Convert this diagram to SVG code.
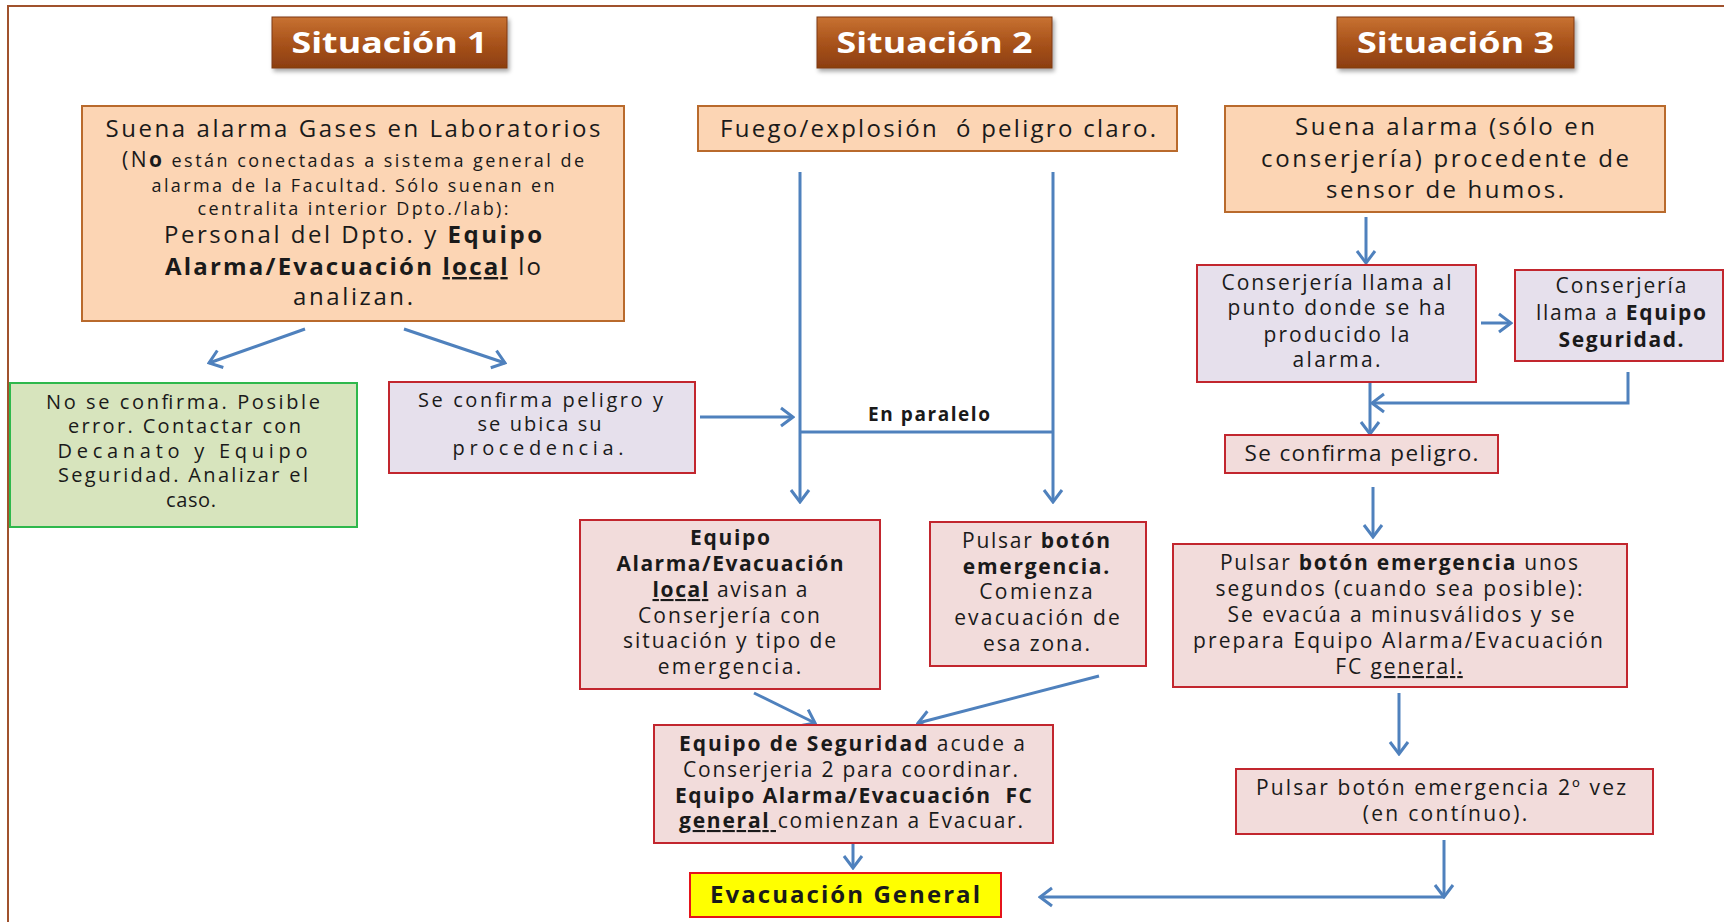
<svg xmlns="http://www.w3.org/2000/svg" width="1724" height="922" viewBox="0 0 1724 922">
<defs>
<style>
text{font-family:"Open Sans","Liberation Sans",sans-serif;fill:#1a1a1a;text-anchor:middle;}
.b{font-weight:bold;}
.u{text-decoration:underline;}
.hd{fill:#fff;font-weight:bold;font-size:29px;}
.peach{fill:#fcd5b4;stroke:#b96a2c;stroke-width:2;}
.lav{fill:#e6e0ec;stroke:#c2262e;stroke-width:2;}
.pink{fill:#f2dcdb;stroke:#c2262e;stroke-width:2;}
.green{fill:#d7e4bd;stroke:#2fb84c;stroke-width:2;}
.yel{fill:#ffff00;stroke:#e5141b;stroke-width:2;}
.hbox{fill:url(#hg);stroke:#7e3a12;stroke-width:1;filter:url(#sh);}
.c{fill:none;stroke:#4f81bd;stroke-width:3;}
.a{marker-end:url(#arr);}
.s21{font-size:24px;}.s22{font-size:24px;}.s20{font-size:22.5px;}.s19{font-size:21px;}.s18{font-size:20px;}.s16{font-size:18px;}
</style>
<linearGradient id="hg" x1="0" y1="0" x2="0" y2="1">
<stop offset="0" stop-color="#c87232"/>
<stop offset="0.5" stop-color="#a9531b"/>
<stop offset="1" stop-color="#8c3e10"/>
</linearGradient>
<filter id="sh" x="-10%" y="-20%" width="125%" height="160%">
<feDropShadow dx="2" dy="3" stdDeviation="2" flood-color="#000" flood-opacity="0.35"/>
</filter>
<marker id="arr" markerUnits="userSpaceOnUse" viewBox="-15 -11 17 22" markerWidth="17" markerHeight="22" refX="0" refY="0" orient="auto">
<path d="M-12,-9 L0,0 L-12,9" fill="none" stroke="#4f81bd" stroke-width="3"/>
</marker>
</defs>
<rect width="1724" height="922" fill="#fff"/>
<path d="M8,922 V6 H1724" fill="none" stroke="#a0522d" stroke-width="2"/>

<g id="h1"><rect class="hbox" x="272" y="17" width="235" height="51"/><text class="hd" x="389.5" y="53" textLength="196" lengthAdjust="spacingAndGlyphs">Situación 1</text></g>
<g id="h2"><rect class="hbox" x="817" y="17" width="235" height="51"/><text class="hd" x="934.5" y="53" textLength="196" lengthAdjust="spacingAndGlyphs">Situación 2</text></g>
<g id="h3"><rect class="hbox" x="1337" y="17" width="237" height="51"/><text class="hd" x="1455.5" y="53" textLength="197" lengthAdjust="spacingAndGlyphs">Situación 3</text></g>

<g id="connectors">
<line class="c a" x1="305" y1="329" x2="209" y2="363"/>
<line class="c a" x1="404" y1="329" x2="505" y2="363"/>
<line class="c a" x1="700" y1="417" x2="793" y2="417"/>
<line class="c a" x1="800" y1="172" x2="800" y2="502"/>
<line class="c a" x1="1053" y1="172" x2="1053" y2="502"/>
<line class="c" x1="800" y1="432" x2="1053" y2="432"/>
<line class="c a" x1="754" y1="693" x2="815" y2="723"/>
<line class="c a" x1="1099" y1="676" x2="918" y2="723"/>
<line class="c a" x1="853" y1="844" x2="853" y2="868"/>
<line class="c a" x1="1366" y1="217" x2="1366" y2="263"/>
<line class="c a" x1="1481" y1="323" x2="1511" y2="323"/>
<polyline class="c a" points="1628,372 1628,403 1372,403"/>
<line class="c a" x1="1370" y1="382" x2="1370" y2="434"/>
<line class="c a" x1="1373" y1="487" x2="1373" y2="537"/>
<line class="c a" x1="1399" y1="693" x2="1399" y2="754"/>
<line class="c a" x1="1444" y1="840" x2="1444" y2="897"/>
<line class="c a" x1="1444" y1="897" x2="1040" y2="897"/>
<text class="b" x="929" y="421" font-size="19" textLength="122" lengthAdjust="spacing">En paralelo</text>
</g>

<g id="nA"><rect class="peach" x="82" y="106" width="542" height="215"/>
<text class="s21" x="353" y="137" textLength="495" lengthAdjust="spacing">Suena alarma Gases en Laboratorios</text>
<text class="s16" x="353" y="167" textLength="462" lengthAdjust="spacing"><tspan font-size="21">(N</tspan><tspan font-size="21" class="b">o</tspan> están conectadas a sistema general de</text>
<text class="s16" x="353" y="192" textLength="403" lengthAdjust="spacing">alarma de la Facultad. Sólo suenan en</text>
<text class="s16" x="353" y="215" textLength="311" lengthAdjust="spacing">centralita interior Dpto./lab):</text>
<text class="s21" x="353" y="243" textLength="378" lengthAdjust="spacing">Personal del Dpto. y <tspan class="b">Equipo</tspan></text>
<text class="s21" x="353" y="275" textLength="376" lengthAdjust="spacing"><tspan class="b">Alarma/Evacuación </tspan><tspan class="b u">local</tspan> lo</text>
<text class="s21" x="353" y="305" textLength="120" lengthAdjust="spacing">analizan.</text>
</g>

<g id="nB"><rect class="peach" x="698" y="106" width="479" height="45"/>
<text class="s21" x="938" y="137" textLength="436" lengthAdjust="spacing" xml:space="preserve">Fuego/explosión  ó peligro claro.</text>
</g>

<g id="nC"><rect class="peach" x="1225" y="106" width="440" height="106"/>
<text class="s22" x="1445" y="135" textLength="300" lengthAdjust="spacing">Suena alarma (sólo en</text>
<text class="s22" x="1445" y="167" textLength="368" lengthAdjust="spacing">conserjería) procedente de</text>
<text class="s22" x="1445" y="198" textLength="238" lengthAdjust="spacing">sensor de humos.</text>
</g>

<g id="nD"><rect class="lav" x="1197" y="265" width="279" height="117"/>
<text class="s19" x="1336.5" y="290" textLength="230" lengthAdjust="spacing">Conserjería llama al</text>
<text class="s19" x="1336.5" y="315" textLength="218" lengthAdjust="spacing">punto donde se ha</text>
<text class="s19" x="1336.5" y="342" textLength="146" lengthAdjust="spacing">producido la</text>
<text class="s19" x="1336.5" y="367" textLength="88" lengthAdjust="spacing">alarma.</text>
</g>

<g id="nE"><rect class="lav" x="1515" y="270" width="208" height="91"/>
<text class="s19" x="1621" y="293" textLength="131" lengthAdjust="spacing">Conserjería</text>
<text class="s19" x="1621" y="320" textLength="170" lengthAdjust="spacing">llama a <tspan class="b">Equipo</tspan></text>
<text class="s19 b" x="1621" y="347" textLength="125" lengthAdjust="spacing">Seguridad.</text>
</g>

<g id="nF"><rect class="pink" x="1225" y="435" width="273" height="38"/>
<text class="s20" x="1361.5" y="461" textLength="234" lengthAdjust="spacing">Se confirma peligro.</text>
</g>

<g id="nG"><rect class="pink" x="1173" y="544" width="454" height="143"/>
<text class="s19" x="1399" y="570" textLength="358" lengthAdjust="spacing">Pulsar <tspan class="b">botón emergencia</tspan> unos</text>
<text class="s19" x="1399" y="596" textLength="367" lengthAdjust="spacing">segundos (cuando sea posible):</text>
<text class="s19" x="1401" y="622" textLength="347" lengthAdjust="spacing">Se evacúa a minusválidos y se</text>
<text class="s19" x="1398" y="648" textLength="410" lengthAdjust="spacing">prepara Equipo Alarma/Evacuación</text>
<text class="s19" x="1399" y="674" textLength="127.5" lengthAdjust="spacing">FC <tspan class="u">general.</tspan></text>
</g>

<g id="nH"><rect class="pink" x="1236" y="769" width="417" height="65"/>
<text class="s19" x="1441" y="795" textLength="370" lengthAdjust="spacing">Pulsar botón emergencia 2º vez</text>
<text class="s19" x="1445" y="821" textLength="164.5" lengthAdjust="spacing">(en contínuo).</text>
</g>

<g id="nI"><rect class="pink" x="580" y="520" width="300" height="169"/>
<text class="s19 b" x="730" y="545" textLength="80" lengthAdjust="spacing">Equipo</text>
<text class="s19 b" x="730" y="571" textLength="227" lengthAdjust="spacing">Alarma/Evacuación</text>
<text class="s19" x="730" y="597" textLength="155" lengthAdjust="spacing"><tspan class="b u">local</tspan> avisan a</text>
<text class="s19" x="729" y="623" textLength="182" lengthAdjust="spacing">Conserjería con</text>
<text class="s19" x="729.5" y="648" textLength="213" lengthAdjust="spacing">situación y tipo de</text>
<text class="s19" x="729.5" y="674" textLength="143.5" lengthAdjust="spacing">emergencia.</text>
</g>

<g id="nJ"><rect class="pink" x="930" y="522" width="216" height="144"/>
<text class="s19" x="1036" y="548" textLength="148" lengthAdjust="spacing">Pulsar <tspan class="b">botón</tspan></text>
<text class="s19 b" x="1036" y="574" textLength="146.5" lengthAdjust="spacing">emergencia.</text>
<text class="s19" x="1036" y="599" textLength="113.5" lengthAdjust="spacing">Comienza</text>
<text class="s19" x="1037" y="625" textLength="165.7" lengthAdjust="spacing">evacuación de</text>
<text class="s19" x="1036.5" y="651" textLength="107" lengthAdjust="spacing">esa zona.</text>
</g>

<g id="nK"><rect class="pink" x="654" y="725" width="399" height="118"/>
<text class="s19" x="852" y="751" textLength="346" lengthAdjust="spacing"><tspan class="b">Equipo de Seguridad</tspan> acude a</text>
<text class="s19" x="850.5" y="777" textLength="335" lengthAdjust="spacing">Conserjeria 2 para coordinar.</text>
<text class="s19 b" x="853.5" y="803" textLength="357" lengthAdjust="spacing" xml:space="preserve">Equipo Alarma/Evacuación  FC</text>
<text class="s19" x="851" y="828" textLength="344" lengthAdjust="spacing" xml:space="preserve"><tspan class="b u">general </tspan>comienzan a Evacuar.</text>
</g>

<g id="nL"><rect class="yel" x="690" y="873" width="311" height="44"/>
<text class="s21 b" x="845" y="903" textLength="270" lengthAdjust="spacing">Evacuación General</text>
</g>

<g id="nM"><rect class="green" x="10" y="383" width="347" height="144"/>
<text class="s18" x="183" y="409" textLength="274" lengthAdjust="spacing">No se confirma. Posible</text>
<text class="s18" x="184.5" y="433" textLength="233" lengthAdjust="spacing">error. Contactar con</text>
<text class="s18" x="182.5" y="458" textLength="250" lengthAdjust="spacing">Decanato y Equipo</text>
<text class="s18" x="183" y="482" textLength="250" lengthAdjust="spacing">Seguridad. Analizar el</text>
<text class="s18" x="191" y="507" textLength="50" lengthAdjust="spacing">caso.</text>
</g>

<g id="nN"><rect class="lav" x="389" y="382" width="306" height="91"/>
<text class="s18" x="540.5" y="407" textLength="245" lengthAdjust="spacing">Se confirma peligro y</text>
<text class="s18" x="539.5" y="431" textLength="124" lengthAdjust="spacing">se ubica su</text>
<text class="s18" x="538" y="455" textLength="171" lengthAdjust="spacing">procedencia.</text>
</g>
</svg>
